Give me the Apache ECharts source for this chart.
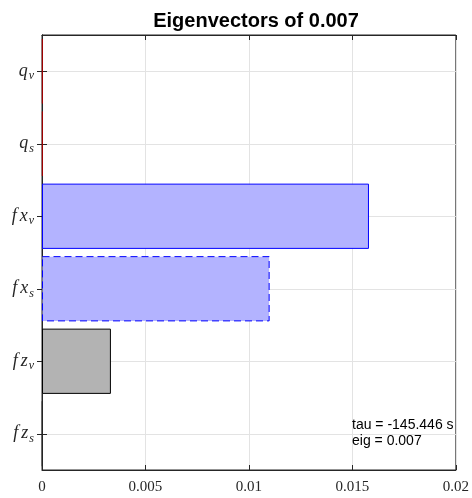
<!DOCTYPE html>
<html><head><meta charset="utf-8">
<script src="https://cdn.jsdelivr.net/npm/echarts@6/dist/echarts.min.js"></script>
<style>html,body{margin:0;padding:0;background:#fff}#c{width:472px;height:498px}</style>
</head><body><div id="c"></div>
<script>
const categories = ['q_v','q_s','fx_v','fx_s','fz_v','fz_s'];
const values = [0.00004, 0.00004, 0.0158, 0.011, 0.00333, 0.00001];
const xTicks = [0, 0.005, 0.01, 0.015, 0.02];
const titleText = 'Eigenvectors of 0.007';
const annotation = ['tau = -145.446 s', 'eig = 0.007'];

const styles = [
  {color:'#ffffff', borderColor:'#a00000', borderWidth:1},
  {color:'#ffffff', borderColor:'#a00000', borderWidth:1},
  {color:'#b3b3ff', borderColor:'#0000ff', borderWidth:1},
  {color:'#b3b3ff', borderColor:'#0000ff', borderWidth:1, borderType:[7,4]},
  {color:'#b3b3b3', borderColor:'#000000', borderWidth:1},
  {color:'#ffffff', borderColor:'#262626', borderWidth:0.5}
];
const chart = echarts.init(document.getElementById('c'));
const labelMap = {};
categories.forEach(c => {
  const p = c.split('_');
  const letters = p[0].split('');
  let s = '';
  letters.forEach((l, k) => { s += (k < letters.length - 1 ? '{f|' + l + '}' : '{i|' + l + '}'); });
  labelMap[c] = s + '{s|' + p[1] + '}';
});

chart.setOption({
  animation:false,
  title:{text:titleText, left:251, textAlign:'center', top:6,
    textStyle:{fontFamily:'Liberation Sans', fontSize:20, fontWeight:'bold', color:'#000'}},
  grid:{left:42, right:16, top:35, bottom:28, show:true, borderColor:'#262626', borderWidth:1, backgroundColor:'#fff'},
  xAxis:[{type:'value', min:0, max:0.02, interval:0.005,
    axisLine:{show:true, lineStyle:{color:'#262626'}},
    axisTick:{show:true, inside:true, length:5, lineStyle:{color:'#262626'}},
    splitLine:{show:true, lineStyle:{color:'#e3e3e3'}},
    axisLabel:{fontFamily:'Liberation Serif', fontSize:15, color:'#262626', margin:10,
      formatter:v => (xTicks.indexOf(v) >= 0 ? String(v) : '')}},
    {type:'value', position:'top', min:0, max:0.02, interval:0.005,
    axisLine:{show:true, lineStyle:{color:'#262626'}},
    axisTick:{show:true, inside:true, length:5, lineStyle:{color:'#262626'}},
    splitLine:{show:false}, axisLabel:{show:false}}],
  yAxis:[{type:'category', data:categories, inverse:true,
    axisLine:{show:true, lineStyle:{color:'#262626'}},
    axisTick:{show:true, inside:true, alignWithLabel:true, length:5, lineStyle:{color:'#262626'}},
    splitLine:{show:false},
    axisLabel:{margin:8, formatter:v => labelMap[v],
      rich:{i:{fontFamily:'Liberation Serif', fontStyle:'italic', fontSize:18, color:'#262626'},
            f:{fontFamily:'Liberation Serif', fontStyle:'italic', fontSize:18, color:'#262626', padding:[0,3,0,0]},
            s:{fontFamily:'Liberation Serif', fontStyle:'italic', fontSize:12, color:'#262626', padding:[10,0,0,1]}}}},
    {type:'category', data:categories, inverse:true, position:'right',
    axisLine:{show:true, lineStyle:{color:'#262626'}},
    axisTick:{show:true, inside:true, alignWithLabel:true, length:5, lineStyle:{color:'#262626'}},
    axisLabel:{show:false}, splitLine:{show:false}}],
  series:[{type:'bar', xAxisIndex:0, yAxisIndex:0, barWidth:'90%',
    data: values.map((v,i) => ({value:v, itemStyle:styles[i]})),
    markLine:{silent:true, symbol:'none', label:{show:false},
      lineStyle:{color:'#e3e3e3', type:'solid', width:1},
      data: categories.map(c => ({yAxis:c})), z:0}
  }],
  graphic:[{type:'text', left:352, top:417, z:100,
    style:{text:annotation.join('\n'), font:'14px "Liberation Sans"', fill:'#000', lineHeight:16}}]
});
</script></body></html>
